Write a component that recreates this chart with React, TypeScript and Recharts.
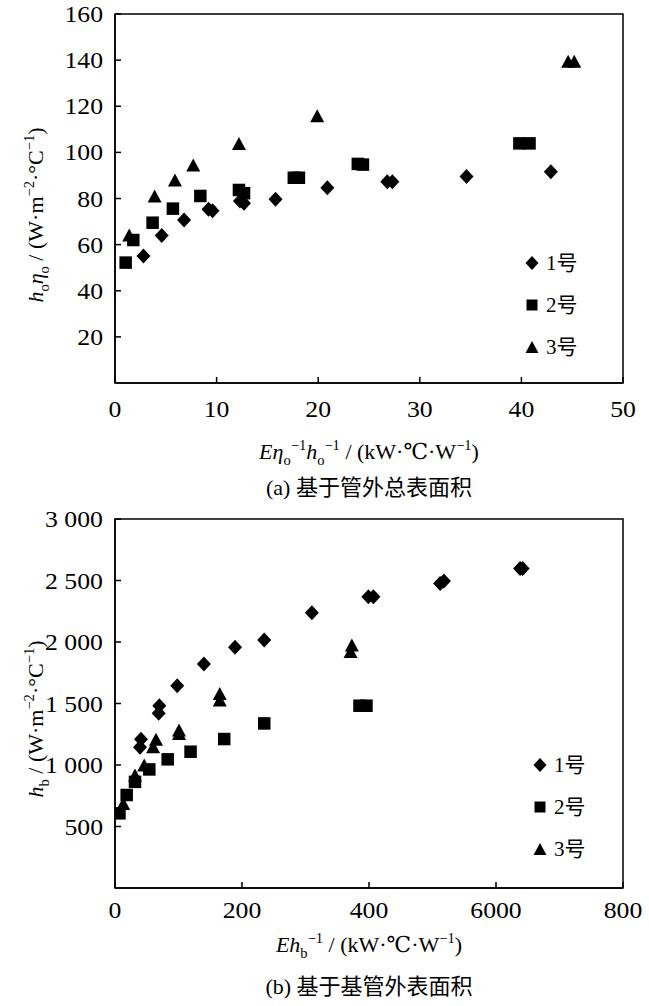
import React from 'react';
import { ScatterChart, Scatter, XAxis, YAxis, ReferenceArea, Legend } from 'recharts';

const seriesNames = ['1号', '2号', '3号'];

// ---- Panel (a) data ----
const aX1 = [2.8, 4.6, 6.8, 9.2, 9.6, 12.3, 12.7, 15.8, 20.9, 26.8, 27.3, 34.6, 42.9];
const aY1 = [55.1, 64.0, 70.7, 75.3, 74.7, 78.9, 77.9, 79.7, 84.7, 87.3, 87.3, 89.5, 91.6];
const aX2 = [1.05, 1.8, 3.7, 5.7, 8.4, 12.2, 12.7, 17.6, 18.1, 23.9, 24.4, 39.8, 40.8];
const aY2 = [52.2, 62.0, 69.5, 75.6, 81.1, 83.7, 82.3, 89.0, 89.0, 95.0, 94.7, 103.9, 103.9];
const aX3 = [1.4, 3.9, 5.9, 7.7, 12.2, 19.9, 44.6, 45.2];
const aY3 = [64.2, 81.1, 88.0, 94.5, 103.9, 115.9, 139.5, 139.5];
const aXTicks = [0, 10, 20, 30, 40, 50];
const aXTickLabels = ['0', '10', '20', '30', '40', '50'];
const aYTicks = [20, 40, 60, 80, 100, 120, 140, 160];
const aYTickLabels = ['20', '40', '60', '80', '100', '120', '140', '160'];

// ---- Panel (b) data ----
const bX1 = [39.4, 40.9, 68.8, 69.8, 98, 140, 189, 235, 310, 399, 407, 512, 518, 638, 642];
const bY1 = [1144, 1209, 1420, 1482, 1645, 1821, 1957, 2016, 2238, 2368, 2368, 2476, 2496, 2598, 2598];
const bX2 = [7, 18.4, 31.5, 54, 83, 119, 172, 235, 385, 396];
const bY2 = [607, 756, 863, 964, 1046, 1108, 1211, 1338, 1482, 1482];
const bX3 = [13, 31.5, 46, 60, 64.6, 100.8, 100.8, 165, 165, 371, 373];
const bY3 = [688, 919, 1000, 1148, 1209, 1257, 1285, 1528, 1582, 1922, 1976];
const bXTicks = [0, 200, 400, 600, 800];
const bXTickLabels = ['0', '200', '400', '6000', '800'];
const bYTicks = [500, 1000, 1500, 2000, 2500, 3000];
const bYTickLabels = ['500', '1 000', '1 500', '2 000', '2 500', '3 000'];

const zip = (xs: number[], ys: number[]) => xs.map((x, i) => ({ x, y: ys[i] }));

const FONT = '"Liberation Serif", "Times New Roman", Tinos, "DejaVu Serif", "Noto Sans CJK SC", serif';
const CJK = '"Liberation Serif", "Times New Roman", Tinos, "DejaVu Serif", "Noto Sans CJK SC", serif';

type Seg = { t: string; i?: boolean; s?: 'sub' | 'sup' };

function rich(segs: Seg[], fs: number) {
  let cur = 0;
  return segs.map((g, k) => {
    const target = g.s === 'sub' ? fs * 0.28 : g.s === 'sup' ? -fs * 0.4 : 0;
    const dy = target - cur;
    cur = target;
    return (
      <tspan key={k} dy={dy} style={{ fontStyle: g.i ? 'italic' : 'normal', fontSize: g.s ? fs * 0.66 : fs }}>
        {g.t}
      </tspan>
    );
  });
}

const Diamond = ({ cx, cy, w = 7, h = 7.5 }: any) => (
  <path d={`M${cx},${cy - h}L${cx + w},${cy}L${cx},${cy + h}L${cx - w},${cy}Z`} fill="#000" />
);
const Square = ({ cx, cy, s = 12.5 }: any) => (
  <rect x={cx - s / 2} y={cy - s / 2} width={s} height={s} fill="#000" />
);
const Triangle = ({ cx, cy, w = 14, h = 13 }: any) => (
  <path d={`M${cx},${cy - h / 2}L${cx + w / 2},${cy + h / 2}L${cx - w / 2},${cy + h / 2}Z`} fill="#000" />
);

const legendMarkers = [
  <Diamond cx={8} cy={8} w={6.5} h={7} />,
  <Square cx={8} cy={8} s={11} />,
  <Triangle cx={8} cy={8} w={13} h={12} />,
];

function Panel(p: any) {
  const W = 649;
  const plotLeft = 115;
  const plotRight = 623;
  const xAxisH = p.height - p.plotBottom;
  const XTick = (tp: any) => {
    const idx = p.xTicks.indexOf(tp.payload.value);
    const label = idx >= 0 ? p.xTickLabels[idx] : String(tp.payload.value);
    return (
      <g>
        <line x1={tp.x} y1={tp.y} x2={tp.x} y2={tp.y - 6} stroke="#000" strokeWidth={1.5} />
        <text
          transform={`translate(${tp.x},${tp.y + p.tickDy}) scale(1.12,1)`}
          textAnchor="middle"
          dominantBaseline="central"
          style={{ fontFamily: FONT, fontSize: 23 }}
          fill="#000"
        >
          {label}
        </text>
      </g>
    );
  };
  const YTick = (tp: any) => {
    const idx = p.yTicks.indexOf(tp.payload.value);
    const label = idx >= 0 ? p.yTickLabels[idx] : String(tp.payload.value);
    return (
      <g>
        <line x1={tp.x} y1={tp.y} x2={tp.x + 6} y2={tp.y} stroke="#000" strokeWidth={1.5} />
        <text
          transform={`translate(${tp.x - 12},${tp.y}) scale(1.12,1)`}
          textAnchor="end"
          dominantBaseline="central"
          style={{ fontFamily: FONT, fontSize: 23 }}
          fill="#000"
        >
          {label}
        </text>
      </g>
    );
  };
  const center = (plotLeft + plotRight) / 2;
  const XLabel = () => (
    <g>
      <text x={center} y={p.xTitleY} textAnchor="middle" style={{ fontFamily: FONT, fontSize: 22 }} fill="#000">
        {rich(p.xTitle, 22)}
      </text>
      <text x={center} y={p.captionY} textAnchor="middle" style={{ fontFamily: CJK, fontSize: 22 }} fill="#000">
        {p.caption}
      </text>
    </g>
  );
  const YLabel = () => (
    <text
      x={43}
      y={p.yTitleY}
      transform={`rotate(-90, 43, ${p.yTitleY})`}
      textAnchor="middle"
      style={{ fontFamily: FONT, fontSize: 22 }}
      fill="#000"
    >
      {rich(p.yTitle, 22)}
    </text>
  );
  const LegendContent = (lp: any) => (
    <div style={{ fontFamily: CJK, fontSize: 21, color: '#000' }}>
      {(lp.payload || []).map((e: any, i: number) => (
        <div key={i} style={{ height: 42, display: 'flex', alignItems: 'center' }}>
          <svg width={16} height={16} style={{ display: 'block' }}>
            {legendMarkers[i]}
          </svg>
          <span style={{ marginLeft: p.legendGap, lineHeight: '42px' }}>{e.value}</span>
        </div>
      ))}
    </div>
  );
  return (
    <div style={{ position: 'absolute', left: 0, top: p.top }}>
      <ScatterChart
        width={W}
        height={p.height}
        margin={{ top: p.plotTop, right: W - plotRight, bottom: 0, left: 0 }}
        style={{ overflow: 'visible' }}
      >
        <XAxis
          type="number"
          dataKey="x"
          domain={p.xDomain}
          ticks={p.xTicks}
          height={xAxisH}
          tickSize={0}
          tickMargin={0}
          tickLine={false}
          axisLine={{ stroke: '#000', strokeWidth: 1.5 }}
          tick={XTick}
          interval={0}
          allowDataOverflow
          label={<XLabel />}
        />
        <YAxis
          type="number"
          dataKey="y"
          domain={p.yDomain}
          ticks={p.yTicks}
          width={plotLeft}
          tickSize={0}
          tickMargin={0}
          tickLine={false}
          axisLine={{ stroke: '#000', strokeWidth: 1.5 }}
          tick={YTick}
          interval={0}
          allowDataOverflow
          label={<YLabel />}
        />
        <ReferenceArea
          x1={p.xDomain[0]}
          x2={p.xDomain[1]}
          y1={p.yDomain[0]}
          y2={p.yDomain[1]}
          fill="none"
          fillOpacity={0}
          stroke="#000"
          strokeWidth={1.5}
          strokeOpacity={1}
        />
        <Scatter name={seriesNames[0]} data={p.d1} isAnimationActive={false} shape={(s: any) => <Diamond cx={s.cx} cy={s.cy} />} />
        <Scatter name={seriesNames[1]} data={p.d2} isAnimationActive={false} shape={(s: any) => <Square cx={s.cx} cy={s.cy} />} />
        <Scatter name={seriesNames[2]} data={p.d3} isAnimationActive={false} shape={(s: any) => <Triangle cx={s.cx} cy={s.cy} />} />
        <Legend
          layout="vertical"
          align="center"
          verticalAlign="middle"
          wrapperStyle={{ position: 'absolute', left: p.legendLeft, top: p.legendTop, width: 90, height: 130 }}
          content={LegendContent}
        />
      </ScatterChart>
    </div>
  );
}

const xTitleA: Seg[] = [
  { t: 'E', i: true },
  { t: 'η', i: true },
  { t: 'o', s: 'sub' },
  { t: '−1', s: 'sup' },
  { t: 'h', i: true },
  { t: 'o', s: 'sub' },
  { t: '−1', s: 'sup' },
  { t: ' / (kW·℃·W' },
  { t: '−1', s: 'sup' },
  { t: ')' },
];
const yTitleA: Seg[] = [
  { t: 'h', i: true },
  { t: 'o', s: 'sub' },
  { t: 'η', i: true },
  { t: 'o', s: 'sub' },
  { t: ' / (W·m' },
  { t: '−2', s: 'sup' },
  { t: '·°C' },
  { t: '−1', s: 'sup' },
  { t: ')' },
];
const xTitleB: Seg[] = [
  { t: 'E', i: true },
  { t: 'h', i: true },
  { t: 'b', s: 'sub' },
  { t: '−1', s: 'sup' },
  { t: ' / (kW·℃·W' },
  { t: '−1', s: 'sup' },
  { t: ')' },
];
const yTitleB: Seg[] = [
  { t: 'h', i: true },
  { t: 'b', s: 'sub' },
  { t: ' / (W·m' },
  { t: '−2', s: 'sup' },
  { t: '·°C' },
  { t: '−1', s: 'sup' },
  { t: ')' },
];

export default function App() {
  return (
    <div style={{ position: 'absolute', left: 0, top: 0, width: 649, height: 1006, background: '#fff', overflow: 'hidden' }}>
      <Panel
        top={0}
        height={500}
        plotTop={14}
        plotBottom={383}
        xDomain={[0, 50]}
        yDomain={[0, 160]}
        xTicks={aXTicks}
        xTickLabels={aXTickLabels}
        yTicks={aYTicks}
        yTickLabels={aYTickLabels}
        d1={zip(aX1, aY1)}
        d2={zip(aX2, aY2)}
        d3={zip(aX3, aY3)}
        tickDy={26}
        xTitle={xTitleA}
        xTitleY={459}
        caption="(a)  基于管外总表面积"
        captionY={495}
        yTitle={yTitleA}
        yTitleY={215}
        legendLeft={524}
        legendTop={242}
        legendGap={6}
      />
      <Panel
        top={500}
        height={506}
        plotTop={19}
        plotBottom={388}
        xDomain={[0, 800]}
        yDomain={[0, 3000]}
        xTicks={bXTicks}
        xTickLabels={bXTickLabels}
        yTicks={bYTicks}
        yTickLabels={bYTickLabels}
        d1={zip(bX1, bY1)}
        d2={zip(bX2, bY2)}
        d3={zip(bX3, bY3)}
        tickDy={22}
        xTitle={xTitleB}
        xTitleY={452}
        caption="(b)  基于基管外表面积"
        captionY={494}
        yTitle={yTitleB}
        yTitleY={219}
        legendLeft={532}
        legendTop={244}
        legendGap={6}
      />
    </div>
  );
}
